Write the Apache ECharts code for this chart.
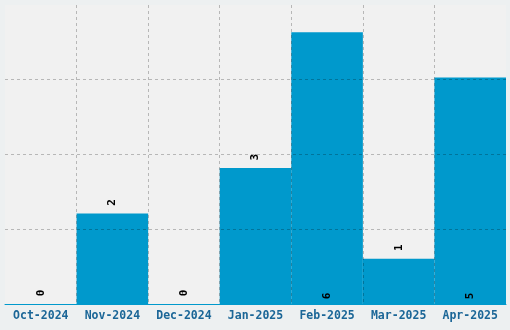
<!DOCTYPE html>
<html>
<head>
<meta charset="utf-8">
<script src="https://cdn.jsdelivr.net/npm/echarts@6/dist/echarts.min.js"></script>
<style>
html,body{margin:0;padding:0;background:#edf0f1;}
#c{width:510px;height:330px;}
</style>
</head>
<body>
<div id="c"></div>
<script>
var categories = ['Oct-2024','Nov-2024','Dec-2024','Jan-2025','Feb-2025','Mar-2025','Apr-2025'];
var values = [0, 2, 0, 3, 6, 1, 5];
var yMax = 6.6;
var yInterval = 1.65;

var chart = echarts.init(document.getElementById('c'), null, {renderer:'canvas'});
var data = values.map(function(v){
  var inside = v > 4;
  return {
    value: v,
    label: inside ? {position:'insideBottom', distance: 8} : {position:'top', distance: 11}
  };
});
var gridLine = {color:'rgba(0,0,0,0.24)', type:[3,3], width:1};
chart.setOption({
  backgroundColor: '#edf0f1',
  animation: false,
  grid: {left:5, right:4, top:5, bottom:26, show:true, backgroundColor:'#f1f1f1', borderWidth:0},
  xAxis: {
    type:'category', data: categories, z: 5,
    axisLine:{show:true, lineStyle:{color:'#0099cc', width:1}},
    axisTick:{show:false},
    axisLabel:{interval:0, hideOverlap:false, color:'#1b6697', fontFamily:'DejaVu Sans Mono', fontWeight:'bold', fontSize:11.5, margin:6},
    splitLine:{show:true, interval:0, showMinLine:false, showMaxLine:false, lineStyle:gridLine}
  },
  yAxis: {
    type:'value', min:0, max:yMax, interval:yInterval, z: 5,
    axisLine:{show:false}, axisTick:{show:false}, axisLabel:{show:false},
    splitLine:{show:true, showMinLine:false, showMaxLine:false, lineStyle:gridLine}
  },
  series: [{
    type:'bar', data: data, barCategoryGap:'0%', z:2,
    itemStyle:{color:'#0099cc'},
    label:{show:true, rotate:90, align:'center', verticalAlign:'middle', color:'#000', fontFamily:'DejaVu Sans Mono', fontWeight:'bold', fontSize:11}
  }]
});
</script>
</body>
</html>
